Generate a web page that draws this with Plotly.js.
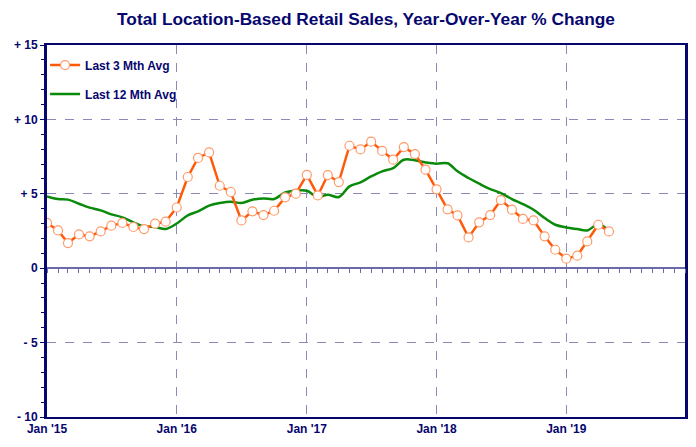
<!DOCTYPE html>
<html>
<head>
<meta charset="utf-8">
<script src="https://cdn.plot.ly/plotly-3.0.1.min.js"></script>
<style>html,body{margin:0;padding:0;background:#fff;}#chart{width:696px;height:447px;}</style>
</head>
<body>
<div id="chart"></div>
<script>
const months = [
  '2015-01-01','2015-02-01','2015-03-01','2015-04-01','2015-05-01','2015-06-01','2015-07-01','2015-08-01','2015-09-01','2015-10-01','2015-11-01','2015-12-01',
  '2016-01-01','2016-02-01','2016-03-01','2016-04-01','2016-05-01','2016-06-01','2016-07-01','2016-08-01','2016-09-01','2016-10-01','2016-11-01','2016-12-01',
  '2017-01-01','2017-02-01','2017-03-01','2017-04-01','2017-05-01','2017-06-01','2017-07-01','2017-08-01','2017-09-01','2017-10-01','2017-11-01','2017-12-01',
  '2018-01-01','2018-02-01','2018-03-01','2018-04-01','2018-05-01','2018-06-01','2018-07-01','2018-08-01','2018-09-01','2018-10-01','2018-11-01','2018-12-01',
  '2019-01-01','2019-02-01','2019-03-01','2019-04-01','2019-05-01'
];
const last3MthAvg = [
  3.04, 2.54, 1.69, 2.27, 2.14, 2.47, 2.86, 3.04, 2.77, 2.63, 2.99, 3.13,
  4.08, 6.13, 7.41, 7.78, 5.54, 5.12, 3.21, 3.82, 3.57, 3.86, 4.76, 5.01,
  6.27, 4.89, 6.26, 5.79, 8.23, 7.98, 8.50, 7.88, 7.29, 8.14, 7.67, 6.62,
  5.30, 3.96, 3.55, 2.07, 3.08, 3.57, 4.58, 3.93, 3.31, 3.21, 2.14, 1.24,
  0.64, 0.84, 1.80, 2.92, 2.47
];
const last12MthAvg = [
  4.83, 4.65, 4.61, 4.33, 4.07, 3.89, 3.62, 3.42, 3.08, 2.81, 2.77, 2.63,
  3.00, 3.55, 3.82, 4.20, 4.38, 4.47, 4.38, 4.60, 4.69, 4.65, 5.09, 5.21,
  5.20, 4.78, 4.94, 4.78, 5.50, 5.77, 6.17, 6.51, 6.73, 7.29, 7.25, 7.11,
  7.02, 7.05, 6.51, 6.06, 5.68, 5.32, 5.05, 4.65, 4.31, 3.93, 3.37, 2.92,
  2.74, 2.63, 2.54, 2.95, 2.52
];
const yTickVals = [-10, -5, 0, 5, 10, 15];
const yTickText = ['- 10', '- 5', '0', '+ 5', '+ 10', '+ 15'];
const seriesNames = ['Last 3 Mth Avg', 'Last 12 Mth Avg'];

const navy = '#06066f';
const gridCol = '#8a8ab8';
const fontFam = 'Liberation Sans, Arial, sans-serif';

const traces = [
  {
    x: months, y: last12MthAvg, name: seriesNames[1], type: 'scatter', mode: 'lines',
    line: {color: '#0a8a0a', width: 2.5, shape: 'spline', smoothing: 1},
    legendgroup: 'b', legendrank: 2, hoverinfo: 'skip'
  },
  {
    x: months, y: last3MthAvg, name: seriesNames[0], type: 'scatter', mode: 'lines+markers',
    line: {color: '#ff5a0a', width: 2.5},
    marker: {symbol: 'circle', size: 9, color: '#ffffff', line: {color: '#ff9a6a', width: 1.2}},
    legendgroup: 'a', legendrank: 1, hoverinfo: 'skip'
  },
  {
    x: months, y: months.map(() => null), xaxis: 'x2', type: 'scatter', mode: 'lines',
    showlegend: false, hoverinfo: 'skip'
  }
];

const xRange = ['2015-01-01', '2019-12-01'];

const layout = {
  width: 696, height: 447,
  margin: {l: 47, r: 11, t: 45, b: 30},
  paper_bgcolor: '#ffffff', plot_bgcolor: '#ffffff',
  showlegend: true,
  title: {
    text: 'Total Location-Based Retail Sales, Year-Over-Year % Change',
    font: {family: fontFam, size: 17.3, color: navy, weight: 'bold'},
    x: 0.5, xanchor: 'center', xref: 'paper', y: 0.958, yanchor: 'middle', yref: 'container'
  },
  legend: {
    x: -0.003, y: 0.985, xanchor: 'left', yanchor: 'top',
    bgcolor: 'rgba(0,0,0,0)', borderwidth: 0,
    font: {family: fontFam, size: 12, color: navy, weight: 'bold'},
    traceorder: 'grouped', tracegroupgap: 10
  },
  xaxis: {
    type: 'date', range: xRange,
    tickmode: 'linear', tick0: '2015-01-01', dtick: 'M12', tickformat: "%b '%y",
    ticks: '', showgrid: true, gridcolor: gridCol, griddash: 'dash', gridwidth: 1,
    showline: true, linecolor: navy, linewidth: 2, mirror: true,
    tickfont: {family: fontFam, size: 12, color: navy, weight: 'bold'},
    zeroline: false
  },
  xaxis2: {
    type: 'date', range: xRange, overlaying: 'x', anchor: 'free', position: 0.4,
    tickmode: 'linear', tick0: '2015-01-01', dtick: 'M1',
    ticks: 'outside', ticklen: 4, tickwidth: 1, tickcolor: '#6a6aa8',
    showticklabels: false, showgrid: false, showline: false, zeroline: false
  },
  yaxis: {
    range: [-10, 15], tickmode: 'array', tickvals: yTickVals, ticktext: yTickText,
    ticks: 'outside', ticklen: 4, tickcolor: navy,
    minor: {dtick: 1, ticks: 'outside', ticklen: 3, tickcolor: navy, showgrid: false},
    showgrid: true, gridcolor: gridCol, griddash: 'dash', gridwidth: 1,
    showline: true, linecolor: navy, linewidth: 3, mirror: true,
    zeroline: true, zerolinecolor: '#6a6aa8', zerolinewidth: 2,
    tickfont: {family: fontFam, size: 12, color: navy, weight: 'bold'}
  }
};

Plotly.newPlot('chart', traces, layout, {displayModeBar: false, staticPlot: true});
</script>
</body>
</html>
